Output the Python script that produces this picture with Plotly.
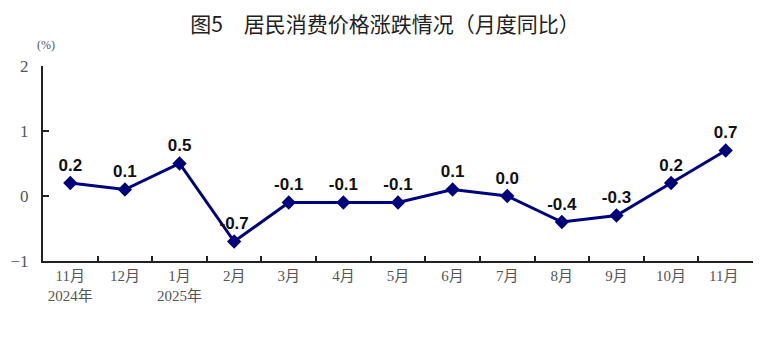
import plotly.graph_objects as go

categories = ["11月<br>2024年", "12月", "1月<br>2025年", "2月", "3月", "4月", "5月",
              "6月", "7月", "8月", "9月", "10月", "11月 "]
values = [0.2, 0.1, 0.5, -0.7, -0.1, -0.1, -0.1, 0.1, 0.0, -0.4, -0.3, 0.2, 0.7]
labels = ["0.2", "0.1", "0.5", "-0.7", "-0.1", "-0.1", "-0.1", "0.1", "0.0", "-0.4", "-0.3", "0.2", "0.7"]
y_ticks = [-1, 0, 1, 2]

serif = "Liberation Serif, Noto Sans CJK SC, serif"

# page body has an 8px default margin; figure sized to fit the window
W, H = 765, 351

fig = go.Figure()
fig.add_trace(go.Scatter(
    x=categories, y=values, mode="lines+markers+text",
    text=labels, textposition="top center",
    textfont=dict(family="Liberation Sans, Arial, sans-serif", size=17, color="#111111", weight="bold"),
    line=dict(color="#00007f", width=3),
    marker=dict(symbol="diamond", size=11, color="#00007f"),
    cliponaxis=False,
))

fig.update_layout(
    width=W, height=H,
    margin=dict(l=35, r=20, t=58, b=98, autoexpand=False),
    paper_bgcolor="white", plot_bgcolor="white",
    showlegend=False,
    title=dict(text="图5　居民消费价格涨跌情况（月度同比）", x=(385 - 8) / W, xanchor="center",
               xref="container", y=1 - 17 / H, yref="container", yanchor="middle",
               font=dict(family="Noto Sans CJK SC, sans-serif", size=21, color="#222222")),
)
fig.add_annotation(text="(%)", xref="paper", yref="paper", x=0.0, y=1.0, xshift=3, yshift=21,
                   xanchor="center", yanchor="middle", showarrow=False,
                   font=dict(family=serif, size=12, color="#555555"))

fig.update_xaxes(
    type="category", range=[-0.5, 12.5], automargin=False,
    showline=True, linecolor="#222222", linewidth=2,
    ticks="inside", tickson="boundaries", ticklen=5, tickwidth=1.5, tickcolor="#222222",
    showgrid=False, zeroline=False,
    tickfont=dict(family=serif, size=15, color="#555555"),
)
fig.update_yaxes(
    range=[-1, 2], tickvals=y_ticks, automargin=False,
    showline=True, linecolor="#222222", linewidth=2,
    ticks="inside", ticklen=6, tickwidth=1.5, tickcolor="#222222",
    ticklabelstandoff=9,
    showgrid=False, zeroline=False,
    tickfont=dict(family=serif, size=17, color="#555555"),
)

fig.write_html("out.html")
